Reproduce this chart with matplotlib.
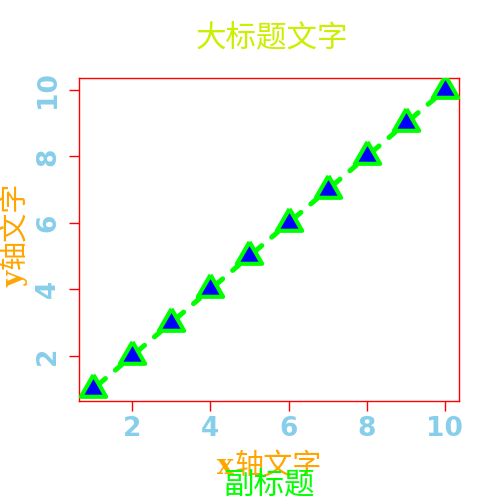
import numpy as np
import matplotlib
matplotlib.use("Agg")
from matplotlib import pyplot as plt

x = [1, 2, 3, 4, 5, 6, 7, 8, 9, 10]
y = [1, 2, 3, 4, 5, 6, 7, 8, 9, 10]
ticks = [2, 4, 6, 8, 10]

title = "大标题文字"
subtitle = "副标题"
xlab = ["x", "轴文字"]
ylab = ["y", "轴文字"]

cjk = ["Noto Sans CJK SC", "DejaVu Sans"]
serif = ["DejaVu Serif", "Noto Sans CJK SC"]
plt.rcParams["font.family"] = cjk

fig = plt.figure(figsize=(5, 5), dpi=100)
ax = fig.add_axes([0.158, 0.198, 0.76, 0.646])

# type="b": dashed segments with a gap at each point
gap = 0.16
for i in range(len(x) - 1):
    x0, x1 = x[i], x[i + 1]
    y0, y1 = y[i], y[i + 1]
    xs = [x0 + gap * (x1 - x0), x1 - gap * (x1 - x0)]
    ys = [y0 + gap * (y1 - y0), y1 - gap * (y1 - y0)]
    ax.plot(xs, ys, color="#00FF00", lw=3.6, linestyle=(0, (1.6, 2.6)),
            dash_capstyle="round", solid_capstyle="round", zorder=2)

tri = [(0, 1), (-0.866, -0.5), (0.866, -0.5), (0, 1)]
ax.plot(x, y, linestyle="none", marker=tri, ms=21, mfc="#0000FF",
        mec="#00FF00", mew=3.0, zorder=3)

ax.set_xlim(0.64, 10.36)
ax.set_ylim(0.64, 10.36)
ax.set_xticks(ticks)
ax.set_yticks(ticks)
for s in ax.spines.values():
    s.set_color("red")
    s.set_linewidth(1)
ax.tick_params(colors="red", length=7, width=1, direction="out", pad=3.5,
               labelcolor="#87CEEB", labelsize=19)
ax.tick_params(axis="y", pad=6)
for lab in ax.get_xticklabels():
    lab.set_fontweight("bold")
    lab.set_family("DejaVu Sans")
for lab in ax.get_yticklabels():
    lab.set_fontweight("bold")
    lab.set_family("DejaVu Sans")
    lab.set_rotation(90)
    lab.set_va("center")

fig.text(0.544, 0.924, title, color="#CCEE00", fontsize=22, style="italic",
         ha="center", va="center", family=cjk)

# x label: bold serif letter followed by the CJK part
fig.text(0.468, 0.053, xlab[0], color="#FFA500", fontsize=20,
         weight="bold", ha="right", va="baseline", family=serif)
fig.text(0.470, 0.053, xlab[1], color="#FFA500", fontsize=21, style="italic",
         ha="left", va="baseline", family=cjk)

fig.text(0.538, 0.030, subtitle, color="#00FF00", fontsize=22,
         ha="center", va="center", family=cjk)

# y label, rotated
fig.text(0.044, 0.458, ylab[0], color="#FFA500", fontsize=20, weight="bold",
         ha="right", va="baseline", rotation=90, rotation_mode="anchor",
         family=serif)
fig.text(0.044, 0.462, ylab[1], color="#FFA500", fontsize=21, style="italic",
         ha="left", va="baseline", rotation=90, rotation_mode="anchor",
         family=cjk)

fig.savefig("out.png", dpi=100)
